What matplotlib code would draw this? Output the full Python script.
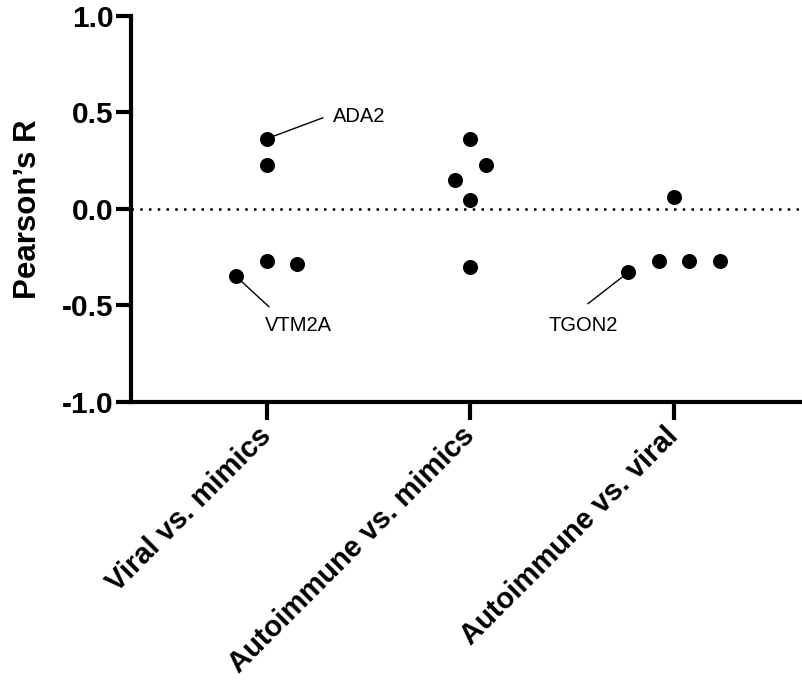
import numpy as np
import matplotlib
matplotlib.use('Agg')
import matplotlib.pyplot as plt

plt.rcParams['font.family'] = ['Liberation Sans', 'DejaVu Sans']

# 数据
categories = ['Viral vs. mimics', 'Autoimmune vs. mimics', 'Autoimmune vs. viral']
r_viral_mimics = [0.363, 0.228, -0.271, -0.289, -0.351]
r_auto_mimics = [0.361, 0.228, 0.150, 0.047, -0.302]
r_auto_viral = [0.061, -0.269, -0.269, -0.269, -0.330]
# 点的横向散开（类别单位，从图中读取）
spread_viral_mimics = [0.0, 0.0, 0.0, 0.15, -0.15]
spread_auto_mimics = [0.0, 0.075, -0.075, 0.0, 0.0]
spread_auto_viral = [0.0, -0.075, 0.075, 0.225, -0.225]

# 标注的基因：组号, 点序号, 名称
labels = [(0, 0, 'ADA2'), (0, 4, 'VTM2A'), (2, 4, 'TGON2')]
label_line_end = [(0.276, 0.472), (0.011, -0.508), (1.578, -0.492)]
label_text_pos = [(0.326, 0.477, 'left'), (-0.008, -0.606, 'left'), (1.725, -0.606, 'right')]

values = [r_viral_mimics, r_auto_mimics, r_auto_viral]
spreads = [spread_viral_mimics, spread_auto_mimics, spread_auto_viral]

fig = plt.figure(figsize=(8.02, 6.81), dpi=100)
ax = fig.add_axes([0.1633, 0.4104, 0.8367, 0.5661])

for i, (vals, sp) in enumerate(zip(values, spreads)):
    xs = i + np.array(sp)
    ax.scatter(xs, vals, s=117, color='black', zorder=3, linewidths=0)

ax.axhline(0, color='black', linestyle=(0, (1, 2.5)), linewidth=1.8, zorder=1)

for (g, k, name), (lx, ly), (tx, ty, ha) in zip(labels, label_line_end, label_text_pos):
    px = g + spreads[g][k]
    py = values[g][k]
    ax.plot([px, lx], [py, ly], color='black', linewidth=1.0, zorder=2)
    ax.text(tx, ty, name, ha=ha, va='center', fontsize=14.5)

ax.set_xlim(-0.666, 2.628)
ax.set_ylim(-1.0, 1.0)
ax.set_yticks([-1.0, -0.5, 0.0, 0.5, 1.0])
ax.set_yticklabels(['-1.0', '-0.5', '0.0', '0.5', '1.0'])
ax.set_xticks(range(len(categories)))
ax.set_xticklabels(categories, rotation=45, ha='right', va='center', rotation_mode='anchor')

for s in ['top', 'right']:
    ax.spines[s].set_visible(False)
for s in ['left', 'bottom']:
    ax.spines[s].set_linewidth(3)
ax.tick_params(axis='y', length=11, width=3, pad=1.5, labelsize=21.5)
ax.tick_params(axis='x', length=13, width=3, pad=8.5, labelsize=21)
for lab in ax.get_xticklabels() + ax.get_yticklabels():
    lab.set_fontweight('bold')

ax.set_ylabel("Pearson’s R", fontsize=22.5, fontweight='bold', labelpad=14)

plt.savefig('out.png', dpi=100)
plt.close()
